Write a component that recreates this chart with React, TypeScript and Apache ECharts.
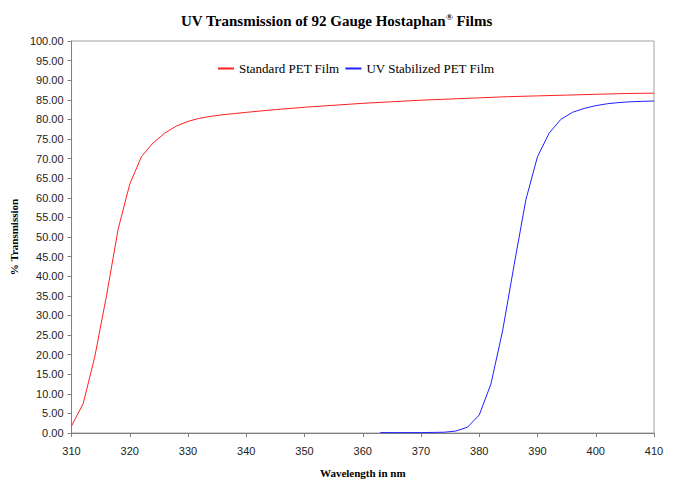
import React, { useEffect, useRef } from "react";
import * as echarts from "echarts";

const stdX = [310, 312, 314, 316, 318, 320, 322, 324, 326, 328, 330, 332, 334, 336, 338, 340, 345, 350, 355, 360, 365, 370, 375, 380, 385, 390, 395, 400, 405, 410];
const stdY = [1.8, 7.5, 19.5, 35, 52, 63.5, 70.5, 74, 76.5, 78.3, 79.5, 80.3, 80.8, 81.2, 81.5, 81.8, 82.5, 83.1, 83.6, 84.1, 84.5, 84.9, 85.2, 85.5, 85.8, 86.0, 86.2, 86.4, 86.6, 86.7];

const uvX = [363, 366, 370, 374, 376, 378, 380, 382, 384, 386, 388, 390, 392, 394, 396, 398, 400, 402, 404, 406, 408, 410];
const uvY = [0.1, 0.1, 0.1, 0.2, 0.5, 1.5, 4.6, 12.5, 26, 43, 59.5, 70.5, 76.5, 80, 81.8, 82.8, 83.5, 84, 84.3, 84.5, 84.6, 84.7];

const seriesNames = ["Standard PET Film", "UV Stabilized PET Film"];

export default function App() {
  const ref = useRef<HTMLDivElement>(null);
  useEffect(() => {
    if (!ref.current) return;
    const chart = echarts.init(ref.current, null, { renderer: "svg" });
    const serif = "Liberation Serif";
    const sans = "Liberation Sans";
    chart.setOption({
      animation: false,
      backgroundColor: "#fff",
      title: {
        text: "{a|UV Transmission of 92 Gauge Hostaphan}{s|®}{a| Films}",
        left: "center",
        top: 7,
        textStyle: {
          rich: {
            a: { fontFamily: serif, fontWeight: "bold", fontSize: 15, color: "#000" },
            s: { fontFamily: serif, fontWeight: "bold", fontSize: 9, color: "#000", padding: [0, 0, 8, 0] },
          },
        },
      },
      legend: {
        top: 57,
        left: 213,
        itemWidth: 16,
        itemHeight: 2,
        itemGap: 6,
        icon: "rect",
        textStyle: { fontFamily: serif, fontSize: 13, color: "#000" },
        data: seriesNames,
      },
      grid: {
        left: 71,
        right: 19,
        top: 41,
        bottom: 43,
        show: true,
        borderColor: "#a0a0a0",
        borderWidth: 1,
      },
      xAxis: {
        type: "value",
        min: 310,
        max: 410,
        interval: 10,
        name: "Wavelength in nm",
        nameLocation: "middle",
        nameGap: 34,
        nameTextStyle: { fontFamily: serif, fontWeight: "bold", fontSize: 11, color: "#000" },
        axisLine: { lineStyle: { color: "#808080" } },
        axisTick: { length: 4, lineStyle: { color: "#808080" } },
        axisLabel: { fontFamily: sans, fontSize: 11, color: "#222", margin: 12 },
        splitLine: { show: false },
      },
      yAxis: {
        type: "value",
        min: 0,
        max: 100,
        interval: 5,
        name: "% Transmission",
        nameLocation: "middle",
        nameGap: 42,
        nameRotate: 90,
        nameTextStyle: { fontFamily: serif, fontWeight: "bold", fontSize: 11, color: "#000" },
        axisLine: { show: true, lineStyle: { color: "#808080" } },
        axisTick: { show: true, length: 4, lineStyle: { color: "#808080" } },
        axisLabel: {
          fontFamily: sans,
          fontSize: 11,
          color: "#222",
          margin: 8,
          formatter: (v: number) => v.toFixed(2),
        },
        splitLine: { show: false },
      },
      series: [
        {
          name: seriesNames[0],
          type: "line",
          showSymbol: false,
          symbol: "none",
          color: "#ff2020",
          lineStyle: { width: 1, color: "#ff2020" },
          data: stdX.map((x, i) => [x, stdY[i]]),
        },
        {
          name: seriesNames[1],
          type: "line",
          showSymbol: false,
          symbol: "none",
          color: "#2020ff",
          lineStyle: { width: 1, color: "#2020ff" },
          data: uvX.map((x, i) => [x, uvY[i]]),
        },
      ],
    });
    return () => chart.dispose();
  }, []);
  return <div ref={ref} style={{ width: 673, height: 483, position: "absolute", left: 0, top: 0 }} />;
}
